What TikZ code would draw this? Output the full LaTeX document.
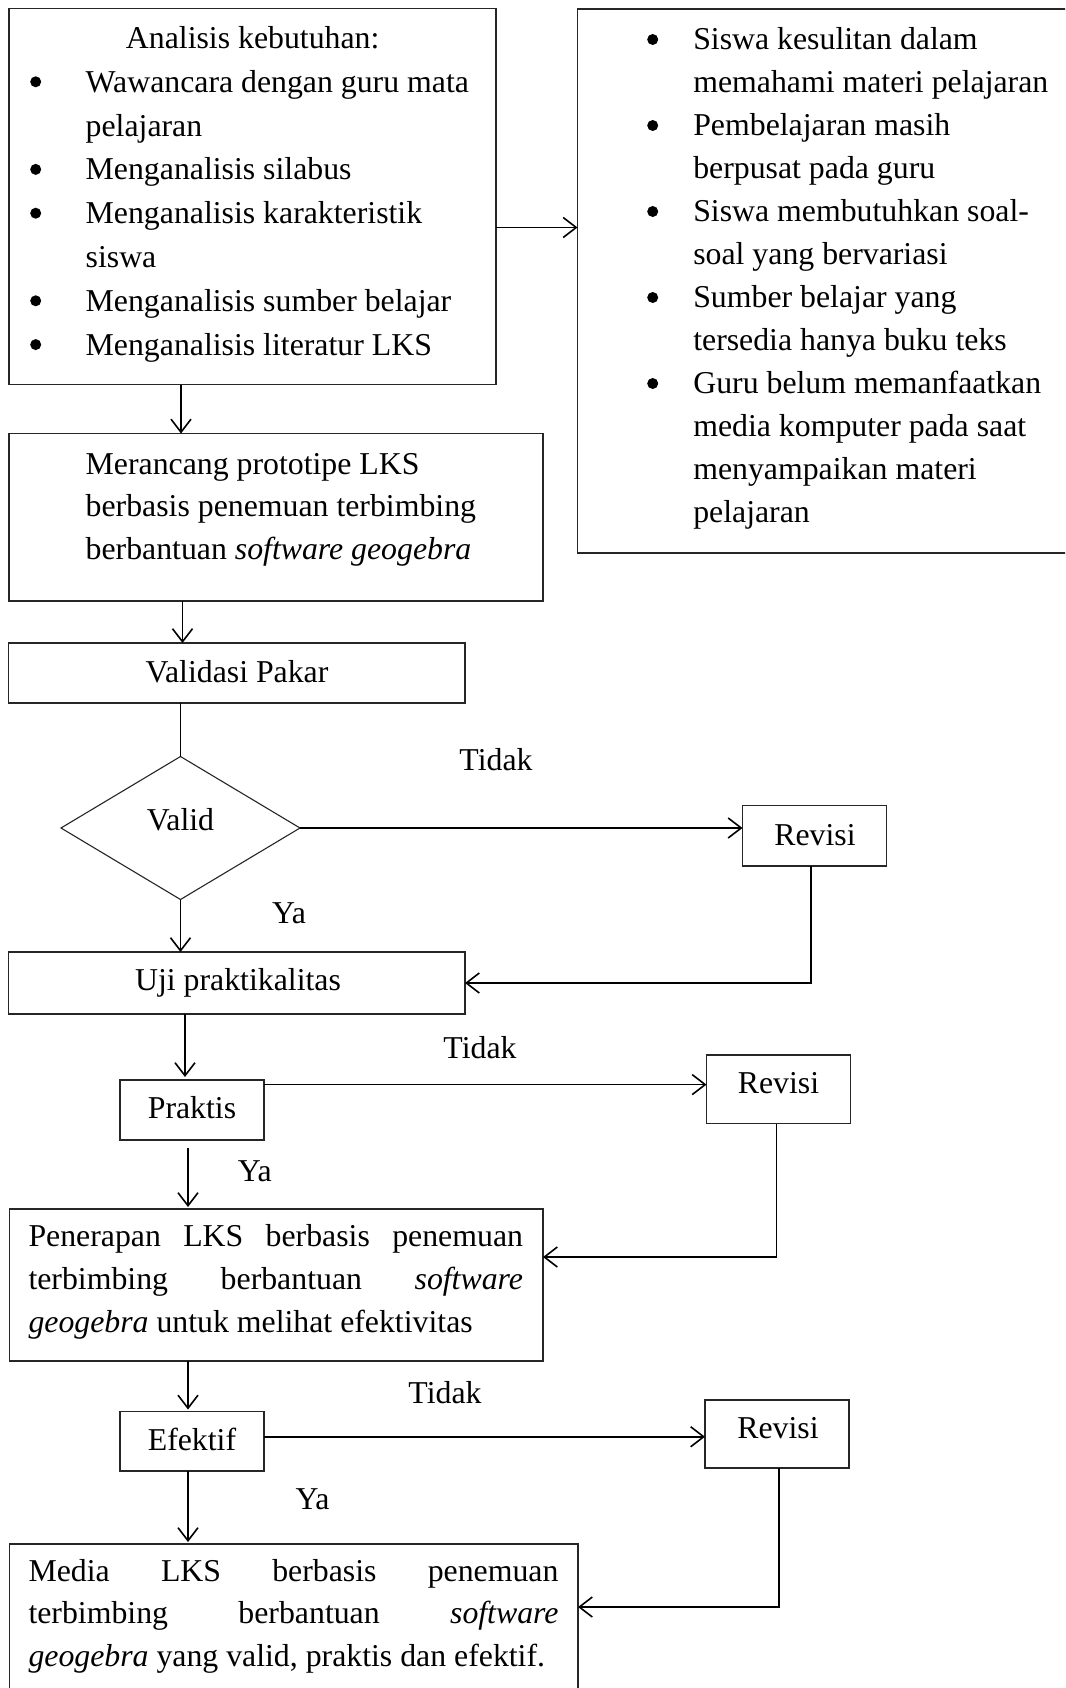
\documentclass[tikz,border=0pt]{standalone}
\usepackage{fontspec}
\setmainfont{Liberation Serif}
\usetikzlibrary{arrows.meta,shapes.geometric,calc}
\newcommand{\fs}[1]{\fontsize{31.8}{#1}\selectfont}
\newcommand{\bul}{\makebox[0pt]{\raisebox{5pt}{\tikz\fill[black] (0pt,0pt) circle[radius=5.5pt];}}}
\begin{document}
\begin{tikzpicture}[x=1pt,y=-1pt,
  box/.style={draw=black!85, line width=1.1pt, inner sep=0pt, outer sep=0pt, anchor=north west},
  conn/.style={line width=1.6pt, -{Straight Barb[length=13pt,width=20pt,line width=1.6pt]}},
  plain/.style={line width=1.6pt},
  lbl/.style={inner sep=0pt, outer sep=0pt, anchor=base, font=\fs{38}},
  blk/.style={inner sep=0pt, outer sep=0pt, anchor=base west}]
\useasboundingbox (0,0) rectangle (1065,1688);
\clip (0,0) rectangle (1065,1688);
\fill[white] (0,0) rectangle (1065,1688);

% columns for vertical connectors
\coordinate (colA) at (181,0);
\coordinate (colB) at (182.5,0);
\coordinate (colC) at (185,0);
\coordinate (colD) at (188,0);

% boxes
\node[box, minimum width=487pt, minimum height=376pt] (b1) at (9,8.5) {};
\node[box, minimum width=500pt, minimum height=544pt] (rb) at (577.5,9) {};
\node[box, minimum width=534pt, minimum height=167.5pt] (b2) at (9,433.5) {};
\node[box, minimum width=456.5pt, minimum height=60pt] (vp) at (8.5,643) {};
\node[draw=black!85, line width=1.1pt, shape=diamond, inner sep=0pt, outer sep=0pt,
      minimum width=239pt, minimum height=143pt] (dia) at (180.5,828) {};
\node[box, minimum width=144pt, minimum height=60.5pt] (rv1) at (742.5,805.5) {};
\node[box, minimum width=456.5pt, minimum height=62pt] (uji) at (8.5,952) {};
\node[box, minimum width=144pt, minimum height=60pt] (pr) at (120,1080) {};
\node[box, minimum width=144pt, minimum height=68.5pt] (rv2) at (706.5,1055) {};
\node[box, minimum width=533.5pt, minimum height=152pt] (pen) at (9.5,1209) {};
\node[box, minimum width=144pt, minimum height=59.5pt] (ef) at (120,1411.5) {};
\node[box, minimum width=144pt, minimum height=68pt] (rv3) at (705,1400) {};
\node[box, minimum width=568.5pt, minimum height=170pt] (fin) at (9.5,1544) {};

% texts
\node[lbl] (t1h) at (252.7,48.5) {Analisis kebutuhan:};
\node[blk, font=\fs{43.8}] (t1) at (35.7,92.3) {\begin{tabular}[t]{@{}l@{}l@{}}
\makebox[50pt][l]{\bul} & Wawancara dengan guru mata\\
 & pelajaran\\
\makebox[50pt][l]{\bul} & Menganalisis silabus\\
\makebox[50pt][l]{\bul} & Menganalisis karakteristik\\
 & siswa\\
\makebox[50pt][l]{\bul} & Menganalisis sumber belajar\\
\makebox[50pt][l]{\bul} & Menganalisis literatur LKS
\end{tabular}};

\node[blk, font=\fs{43}] (trb) at (652.7,50) {\begin{tabular}[t]{@{}l@{}l@{}}
\makebox[40.6pt][l]{\bul} & Siswa kesulitan dalam\\
 & memahami materi pelajaran\\
\makebox[40.6pt][l]{\bul} & Pembelajaran masih\\
 & berpusat pada guru\\
\makebox[40.6pt][l]{\bul} & Siswa membutuhkan soal-\\
 & soal yang bervariasi\\
\makebox[40.6pt][l]{\bul} & Sumber belajar yang\\
 & tersedia hanya buku teks\\
\makebox[40.6pt][l]{\bul} & Guru belum memanfaatkan\\
 & media komputer pada saat\\
 & menyampaikan materi\\
 & pelajaran
\end{tabular}};

\node[blk, font=\fs{42.5}] (t2) at (85.7,474) {\begin{tabular}[t]{@{}l@{}}
Merancang prototipe LKS\\
berbasis penemuan terbimbing\\
berbantuan \textit{software geogebra}
\end{tabular}};

\node[lbl] (tvp) at (237,682) {Validasi Pakar};
\node[lbl] (tval) at (180.5,830) {Valid};
\node[lbl] (tno1) at (496,770) {Tidak};
\node[lbl] (trv1) at (815,845) {Revisi};
\node[lbl] (tya1) at (289,923) {Ya};
\node[lbl] (tuji) at (238,990) {Uji praktikalitas};
\node[lbl] (tno2) at (480,1058.6) {Tidak};
\node[lbl] (tpr) at (192,1118.5) {Praktis};
\node[lbl] (trv2) at (778.5,1093.7) {Revisi};
\node[lbl] (tya2) at (254.8,1181.7) {Ya};

\node[blk, font=\fs{43}] (tpen) at (28.5,1246.6) {\begin{tabular}[t]{@{}l@{}}
\makebox[494.5pt][s]{Penerapan LKS berbasis penemuan}\\
\makebox[494.5pt][s]{terbimbing berbantuan \textit{software}}\\
\textit{geogebra} untuk melihat efektivitas
\end{tabular}};

\node[lbl] (tno3) at (445,1403.6) {Tidak};
\node[lbl] (tef) at (192,1450) {Efektif};
\node[lbl] (trv3) at (778,1438) {Revisi};
\node[lbl] (tya3) at (312.5,1509) {Ya};

\node[blk, font=\fs{42.5}] (tfin) at (28.5,1581) {\begin{tabular}[t]{@{}l@{}}
\makebox[530pt][s]{Media LKS berbasis penemuan}\\
\makebox[530pt][s]{terbimbing berbantuan \textit{software}}\\
\textit{geogebra} yang valid, praktis dan efektif.
\end{tabular}};

% helper coordinates
\coordinate (pA) at ([yshift=-31pt]b1.east);
\coordinate (pB) at ([yshift=-4.6pt]pr.north east);
\coordinate (pC) at ([yshift=28pt]pen.east);
\coordinate (pD) at ([yshift=4.5pt]ef.east);
\coordinate (pE) at ([yshift=22pt]fin.east);
\coordinate (sA) at ([xshift=-3.5pt]rv1.south);
\coordinate (sB) at ([xshift=-2pt]rv2.south);
\coordinate (sC) at ([xshift=2pt]rv3.south);

% connectors
\draw[conn] (pA) -- (pA -| rb.west);
\draw[conn] (b1.south -| colA) -- (b2.north -| colA);
\draw[conn] (b2.south -| colB) -- (vp.north -| colB);
\draw[plain] (vp.south -| dia.north) -- (dia.north);
\draw[conn] (dia.east) -- (dia.east -| rv1.west);
\draw[conn] (sA) |- (uji.east);
\draw[conn] (dia.south) -- (dia.south |- uji.north);
\draw[conn, shorten >=3pt] (uji.south -| colC) -- (pr.north -| colC);
\draw[conn] (pB) -- (pB -| rv2.west);
\draw[conn] (sB) |- (pC);
\draw[conn, shorten <=8pt, shorten >=2pt] (pr.south -| colD) -- (pen.north -| colD);
\draw[conn, shorten >=2pt] (pen.south -| colD) -- (ef.north -| colD);
\draw[conn] (pD) -- (pD -| rv3.west);
\draw[conn] (sC) |- (pE);
\draw[conn, shorten >=2pt] (ef.south -| colD) -- (fin.north -| colD);
\end{tikzpicture}
\end{document}
